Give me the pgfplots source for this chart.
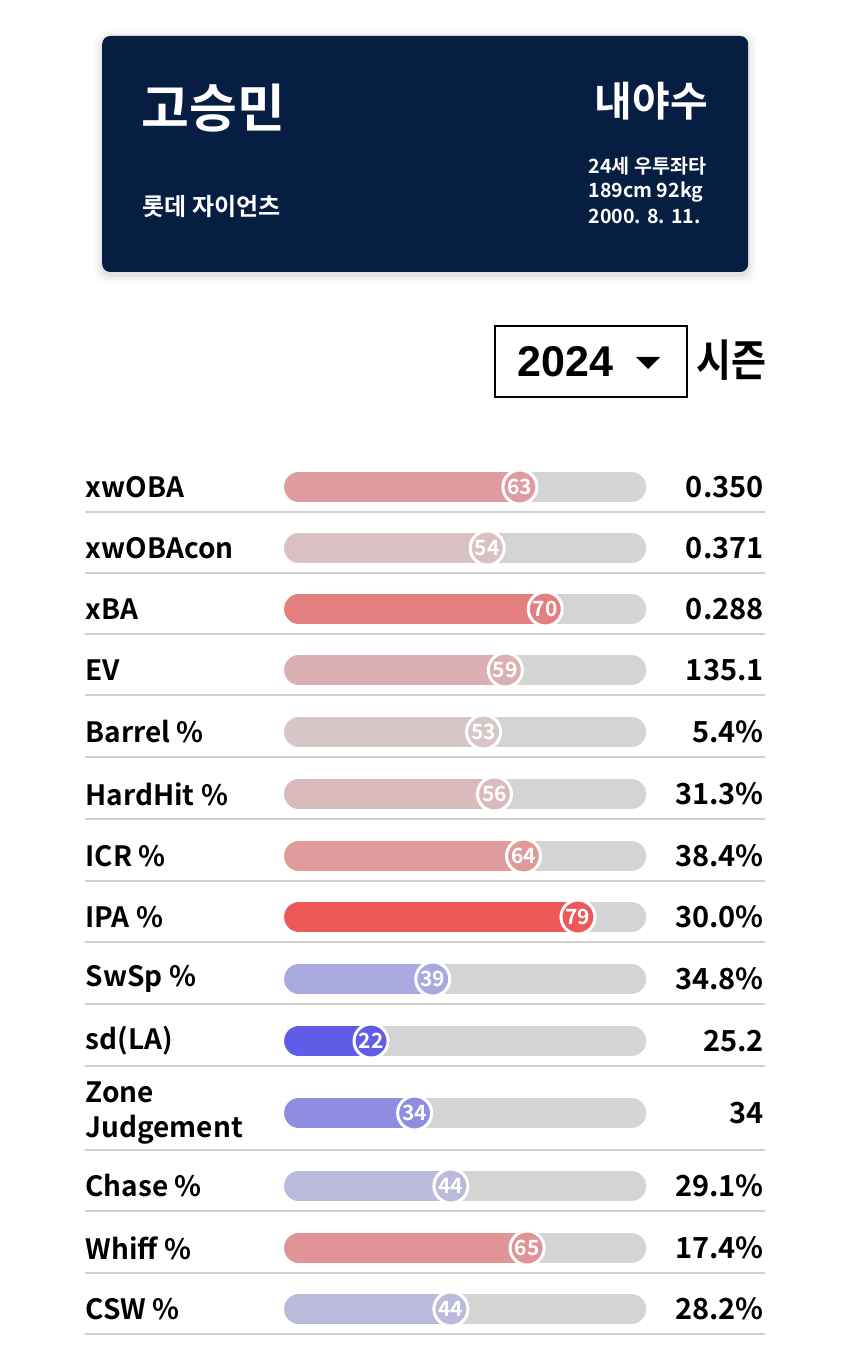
\documentclass[border=0pt]{standalone}
\usepackage{fontspec}
\setmainfont{Noto Sans CJK KR}[BoldFont={Noto Sans CJK KR Bold}]
\newfontfamily\arial{Liberation Sans}
\usepackage{pgfplots}
\pgfplotsset{compat=1.18}
\definecolor{navy}{RGB}{6,30,66}
\definecolor{trackgray}{RGB}{212,212,212}
\definecolor{sepgray}{RGB}{208,208,208}
\definecolor{c22}{RGB}{95,92,232}
\definecolor{c34}{RGB}{142,141,226}
\definecolor{c39}{RGB}{169,169,224}
\definecolor{c44}{RGB}{187,186,219}
\definecolor{c53}{RGB}{216,197,199}
\definecolor{c54}{RGB}{217,193,195}
\definecolor{c56}{RGB}{218,187,189}
\definecolor{c59}{RGB}{219,176,178}
\definecolor{c63}{RGB}{222,156,158}
\definecolor{c64}{RGB}{223,154,156}
\definecolor{c65}{RGB}{224,148,150}
\definecolor{c70}{RGB}{228,127,128}
\definecolor{c79}{RGB}{237,88,89}
\pgfplotsset{pbar/.style={draw=#1, line width=15pt, line cap=round, mark=*, mark indices={2},
  mark size=8.5pt, mark options={draw=white, fill=#1, line width=1.5pt},
  nodes near coords, point meta=explicit symbolic,
  every node near coord/.append style={anchor=center, inner sep=0pt, text=white, font=\bfseries\fontsize{10.5}{10.5}\selectfont}}}
\begin{document}
\begin{tikzpicture}
\fill[white] (0,0) rectangle (425pt,681pt);
\begin{axis}[at={(0,0)}, anchor=south west, width=425pt, height=681pt, scale only axis,
  xmin=-80.165, xmax=153.995, ymin=0, ymax=1362, y dir=reverse, clip=false,
  axis line style={draw=none}, xtick=\empty, major tick length=0pt,
  ytick={487,548,609,670,732,794,856,917,979,1041,1113,1186,1248,1309},
  yticklabels={xwOBA, xwOBAcon, xBA, EV, Barrel \%, HardHit \%, ICR \%, IPA \%, SwSp \%, sd(LA), {Zone\\Judgement}, Chase \%, Whiff \%, CSW \%},
  yticklabel style={anchor=west, inner sep=0pt, xshift=42.5pt, align=left, font=\bfseries\fontsize{14}{17.5}\selectfont}]
% grey tracks
\addplot[draw=trackgray, line width=15pt, line cap=round, unbounded coords=jump] table {
x y
2.2 487
93.66 487
nan nan
2.2 548
93.66 548
nan nan
2.2 609
93.66 609
nan nan
2.2 670
93.66 670
nan nan
2.2 732
93.66 732
nan nan
2.2 794
93.66 794
nan nan
2.2 856
93.66 856
nan nan
2.2 917
93.66 917
nan nan
2.2 979
93.66 979
nan nan
2.2 1041
93.66 1041
nan nan
2.2 1113
93.66 1113
nan nan
2.2 1186
93.66 1186
nan nan
2.2 1248
93.66 1248
nan nan
2.2 1309
93.66 1309
};
% coloured fills with percentile circles
\addplot[pbar=c63] coordinates {(2.2,487) [] (63,487) [63]};
\addplot[pbar=c54] coordinates {(2.2,548) [] (54,548) [54]};
\addplot[pbar=c70] coordinates {(2.2,609) [] (70,609) [70]};
\addplot[pbar=c59] coordinates {(2.2,670) [] (59,670) [59]};
\addplot[pbar=c53] coordinates {(2.2,732) [] (53,732) [53]};
\addplot[pbar=c56] coordinates {(2.2,794) [] (56,794) [56]};
\addplot[pbar=c64] coordinates {(2.2,856) [] (64,856) [64]};
\addplot[pbar=c79] coordinates {(2.2,917) [] (79,917) [79]};
\addplot[pbar=c39] coordinates {(2.2,979) [] (39,979) [39]};
\addplot[pbar=c22] coordinates {(2.2,1041) [] (22,1041) [22]};
\addplot[pbar=c34] coordinates {(2.2,1113) [] (34,1113) [34]};
\addplot[pbar=c44] coordinates {(2.2,1186) [] (44,1186) [44]};
\addplot[pbar=c65] coordinates {(2.2,1248) [] (65,1248) [65]};
\addplot[pbar=c44] coordinates {(2.2,1309) [] (44,1309) [44]};
% values
\addplot[draw=none, mark=none, nodes near coords, point meta=explicit symbolic,
  every node near coord/.append style={anchor=east, inner sep=0pt, text=black, font=\bfseries\fontsize{14.5}{14.5}\selectfont}]
  coordinates {
(130.3,487) [0.350]
(130.3,548) [0.371]
(130.3,609) [0.288]
(130.3,670) [135.1]
(130.3,732) [5.4\%]
(130.3,794) [31.3\%]
(130.3,856) [38.4\%]
(130.3,917) [30.0\%]
(130.3,979) [34.8\%]
(130.3,1041) [25.2]
(130.3,1113) [34]
(130.3,1186) [29.1\%]
(130.3,1248) [17.4\%]
(130.3,1309) [28.2\%]
};
\end{axis}
\begin{scope}[x=0.5pt, y=-0.5pt, shift={(0,681pt)}]
  \foreach \s in {512,573,634,695,757,819,881,942,1004,1066,1150,1211,1273,1334}
    \draw[sepgray, line width=1pt] (85,\s) -- (765,\s);
  % card
  \foreach \o/\a in {8/0.025, 5/0.035, 2/0.05}
    \fill[black, opacity=\a, rounded corners=6pt] (102-\o,36-\o+3) rectangle (748+\o,272+\o+3);
  \fill[navy, rounded corners=4pt] (102,36) rectangle (748,272);
  \node[anchor=base west, inner sep=0pt, text=white, font=\bfseries\fontsize{26}{26}\selectfont] at (141,128) {고승민};
  \node[anchor=base west, inner sep=0pt, text=white, font=\bfseries\fontsize{12}{12}\selectfont] at (142,216) {롯데 자이언츠};
  \node[anchor=base east, inner sep=0pt, text=white, font=\bfseries\fontsize{20.5}{20.5}\selectfont] at (708,117) {내야수};
  \node[anchor=base west, inner sep=0pt, text=white, font=\bfseries\fontsize{9.8}{9.8}\selectfont] at (588,174) {24세 우투좌타};
  \node[anchor=base west, inner sep=0pt, text=white, font=\bfseries\fontsize{9.8}{9.8}\selectfont] at (588,198) {189cm 92kg};
  \node[anchor=base west, inner sep=0pt, text=white, font=\bfseries\fontsize{9.8}{9.8}\selectfont] at (588,224) {2000. 8. 11.};
  % season selector
  \draw[black, line width=1pt] (495,326) rectangle (687,397);
  \node[anchor=base west, inner sep=0pt, font=\arial\bfseries\fontsize{21.5}{21.5}\selectfont] at (517,377) {2024};
  \fill[black] (636,357) -- (660,357) -- (648,369) -- cycle;
  \node[anchor=base west, inner sep=0pt, yscale=1.15, font=\bfseries\fontsize{19}{19}\selectfont] at (696,377) {시즌};
\end{scope}
\end{tikzpicture}
\end{document}
